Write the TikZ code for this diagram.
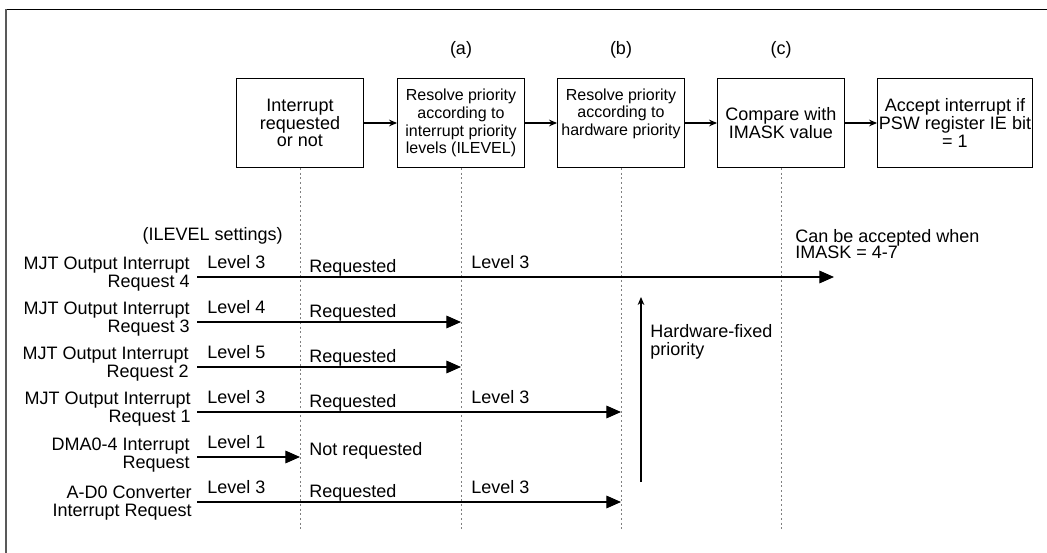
\documentclass[tikz,border=0pt]{standalone}
\usepackage{fontspec}
\setmainfont{Liberation Sans}
\usetikzlibrary{arrows.meta}
\begin{document}
\begin{tikzpicture}[x=0.75pt,y=-0.75pt,
  every node/.style={font=\fontsize{13.5}{13.5}\selectfont, inner sep=0pt},
  stepbox/.style={draw, line width=0.9pt, minimum width=95pt, minimum height=66.5pt, align=center, font=\fontsize{13.5}{13.3}\selectfont},
  narrowtext/.style={font=\fontsize{12}{13.3}\selectfont},
  flow/.style={line width=0.9pt, -{Stealth[length=6pt,width=5pt,inset=2pt]}},
  req/.style={line width=0.9pt, -{Triangle[length=11pt,width=9.5pt]}},
  guide/.style={gray, line width=0.7pt, dash pattern=on 1.5pt off 2pt},
  rowlabel/.style={anchor=east, align=right},
  lbl/.style={anchor=west}]
\useasboundingbox (0,0) rectangle (1047,553);
% frame
\draw[line width=1pt] (6,9.5) -- (1047,9.5);
\draw[gray!70!black, line width=1.4pt] (6,9) -- (6,553);

% boxes
\node[stepbox] (b1) at (300,123) {Interrupt\\requested\\or not};
\node[stepbox, narrowtext] (b2) at (461,123) {Resolve priority\\according to\\interrupt priority\\levels (ILEVEL)};
\node[stepbox, narrowtext] (b3) at (621,123) {Resolve priority\\according to\\hardware priority\\[3pt]};
\node[stepbox] (b4) at (781,123) {Compare with\\IMASK value};
\node[stepbox, minimum width=116pt] (b5) at (955,123) {Accept interrupt if\\PSW register IE bit\\= 1};
\draw[flow] (b1) -- (b2);
\draw[flow] (b2) -- (b3);
\draw[flow] (b3) -- (b4);
\draw[flow] (b4) -- (b5);

% stage labels
\node (la) at (461,50) {(a)};
\node (lb) at (621,50) {(b)};
\node (lc) at (781,50) {(c)};

% guide lines
\coordinate (d1) at (300,530);
\coordinate (d2) at (461,530);
\coordinate (d3) at (621,530);
\coordinate (d4) at (781,530);
\draw[guide] (b1.south) -- (d1);
\draw[guide] (b2.south) -- (d2);
\draw[guide] (b3.south) -- (d3);
\draw[guide] (b4.south) -- (d4);

\node[anchor=east] (ilev) at (283,236) {(ILEVEL settings)};

% rows
\node[rowlabel] (r1) at (190,274) {MJT Output Interrupt\\Request 4};
\node[rowlabel] (r2) at (190,319) {MJT Output Interrupt\\Request 3};
\node[rowlabel] (r3) at (189,364) {MJT Output Interrupt\\Request 2};
\node[rowlabel] (r4) at (191,409) {MJT Output Interrupt\\Request 1};
\node[rowlabel] (r5) at (190,455) {DMA0-4 Interrupt\\Request};
\node[rowlabel] (r6) at (192,503) {A-D0 Converter\\Interrupt Request};

\coordinate (s1) at (197,277); \coordinate (e1) at (834,277);
\coordinate (s2) at (197,322); \coordinate (e2) at (461,322);
\coordinate (s3) at (197,367); \coordinate (e3) at (461,367);
\coordinate (s4) at (197,412); \coordinate (e4) at (621,412);
\coordinate (s5) at (197,457); \coordinate (e5) at (300,457);
\coordinate (s6) at (197,502); \coordinate (e6) at (621,502);
\draw[req] (s1) -- (e1);
\draw[req] (s2) -- (e2);
\draw[req] (s3) -- (e3);
\draw[req] (s4) -- (e4);
\draw[req] (s5) -- (e5);
\draw[req] (s6) -- (e6);

\node[lbl] (lv1) at (207,262) {Level 3};
\node[lbl] (lv2) at (207,307) {Level 4};
\node[lbl] (lv3) at (207,352) {Level 5};
\node[lbl] (lv4) at (207,397) {Level 3};
\node[lbl] (lv5) at (207,442) {Level 1};
\node[lbl] (lv6) at (207,487) {Level 3};

\node[lbl] (q1) at (309,268) {Requested};
\node[lbl] (q2) at (309,313) {Requested};
\node[lbl] (q3) at (309,358) {Requested};
\node[lbl] (q4) at (309,403) {Requested};
\node[lbl] (q5) at (309,451) {Not requested};
\node[lbl] (q6) at (309,493) {Requested};

\node[lbl] (m1) at (471,262) {Level 3};
\node[lbl] (m4) at (471,397) {Level 3};
\node[lbl] (m6) at (471,487) {Level 3};

\node[lbl, align=left, font=\fontsize{13.5}{12.4}\selectfont] (acc) at (795,244) {Can be accepted when\\IMASK = 4-7};

% hardware-fixed priority
\coordinate (h0) at (641,482);
\coordinate (h1) at (641,297);
\draw[flow, line width=0.8pt] (h0) -- (h1);
\node[lbl, align=left] (hw) at (650,342) {Hardware-fixed\\priority};
\end{tikzpicture}
\end{document}
